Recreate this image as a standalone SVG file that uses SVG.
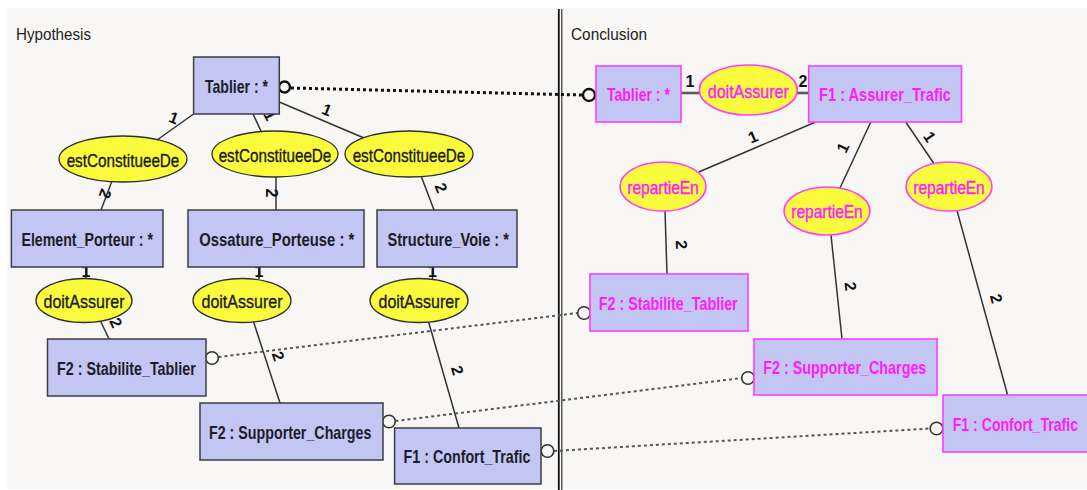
<svg xmlns="http://www.w3.org/2000/svg" width="1087" height="490" viewBox="0 0 1087 490">
<defs>
<style>
.bg{fill:#f8f7f5}
.box{fill:#c3c5f3;stroke:#3c3c44;stroke-width:1.5}
.mbox{fill:#c3c5f3;stroke:#ff3cff;stroke-width:1.6}
.ell{fill:#fbfb3e;stroke:#2e2e2e;stroke-width:1.3}
.mell{fill:#fbfb3e;stroke:#ff3cff;stroke-width:1.6}
.t{font-family:"Liberation Sans",Arial,sans-serif;font-size:19px;font-weight:bold;fill:#1c1c2c;text-anchor:middle}
.mt{font-family:"Liberation Sans",Arial,sans-serif;font-size:19px;font-weight:bold;fill:#ff1cff;text-anchor:middle}
.et{font-family:"Liberation Sans",Arial,sans-serif;font-size:19px;fill:#1c1c1c;stroke:#1c1c1c;stroke-width:0.35;text-anchor:middle}
.met{font-family:"Liberation Sans",Arial,sans-serif;font-size:19px;fill:#ff1cff;stroke:#ff1cff;stroke-width:0.45;text-anchor:middle}
.lbl{font-family:"Liberation Sans",Arial,sans-serif;font-size:16px;font-weight:bold;fill:#111;text-anchor:middle}
.title{font-family:"Liberation Sans",Arial,sans-serif;font-size:16px;fill:#222}
.ln{stroke:#333;stroke-width:1.5;fill:none}
.thk{stroke:#5a5a5a;stroke-width:2.6;fill:none}
.dot{stroke:#555;stroke-width:2;stroke-dasharray:3 3;fill:none}
.dotb{stroke:#111;stroke-width:3;stroke-dasharray:3 3;fill:none}
.circ{fill:none;stroke:#333;stroke-width:1.6}
.circb{fill:none;stroke:#111;stroke-width:2.4}
</style>
</defs>
<rect x="0" y="0" width="1087" height="490" fill="#ffffff"/>
<rect class="bg" x="7" y="8" width="1080" height="481"/>
<line x1="558.8" y1="9" x2="558.8" y2="490" stroke="#111" stroke-width="1.8"/>
<line x1="561.8" y1="9" x2="561.8" y2="490" stroke="#333" stroke-width="1.2"/>
<text class="title" x="16" y="40" textLength="75" lengthAdjust="spacingAndGlyphs">Hypothesis</text>
<text class="title" x="571" y="40" textLength="76" lengthAdjust="spacingAndGlyphs">Conclusion</text>

<g id="connectors">
<line class="ln" x1="193.6" y1="114" x2="157" y2="140"/>
<line class="ln" x1="253" y1="114" x2="261" y2="131"/>
<line class="ln" x1="279.3" y1="102" x2="364" y2="138"/>
<line class="ln" x1="112" y1="181" x2="101" y2="210"/>
<line class="ln" x1="276" y1="177" x2="276" y2="210"/>
<line class="ln" x1="421.5" y1="177" x2="434" y2="210"/>
<line class="ln" x1="86" y1="267" x2="86" y2="279"/>
<line class="ln" x1="259" y1="267" x2="259" y2="279"/>
<line class="ln" x1="432.5" y1="267" x2="432.5" y2="279"/>
<line class="ln" x1="101" y1="322" x2="109" y2="339"/>
<line class="ln" x1="253.6" y1="322" x2="280" y2="403"/>
<line class="ln" x1="428.6" y1="322" x2="459" y2="428"/>
<line class="thk" x1="681" y1="93" x2="700" y2="93"/>
<line class="thk" x1="797" y1="93" x2="809" y2="93"/>
<line class="ln" x1="815.6" y1="122" x2="698.8" y2="172"/>
<line class="ln" x1="870.8" y1="122" x2="840" y2="188"/>
<line class="ln" x1="905.7" y1="122" x2="933.6" y2="163"/>
<line class="ln" x1="665" y1="211" x2="667" y2="274"/>
<line class="ln" x1="831" y1="235" x2="842" y2="339"/>
<line class="ln" x1="957" y1="210.5" x2="1007.6" y2="395"/>
<line class="dotb" x1="291" y1="88" x2="582" y2="95"/>
<line class="dot" x1="218.5" y1="357" x2="577.5" y2="313"/>
<line class="dot" x1="395.5" y1="421" x2="742" y2="378"/>
<line class="dot" x1="554" y1="451" x2="930" y2="428.5"/>
<circle class="circb" cx="284.5" cy="87" r="5.5"/>
<circle class="circb" cx="589" cy="95" r="6"/>
<circle class="circ" cx="212" cy="358" r="6.3"/>
<circle class="circ" cx="389" cy="421.5" r="6.3"/>
<circle class="circ" cx="547.5" cy="451" r="6.3"/>
<circle class="circ" cx="584" cy="313" r="6.3"/>
<circle class="circ" cx="748" cy="378" r="6.3"/>
<circle class="circ" cx="936.5" cy="428.5" r="6.3"/>
<text class="lbl" transform="translate(172,123) rotate(20)">1</text>
<text class="lbl" transform="translate(265,118) rotate(63)">1</text>
<text class="lbl" transform="translate(325,115) rotate(22)">1</text>
<text class="lbl" transform="translate(100,192) rotate(110)">2</text>
<text class="lbl" transform="translate(266,193) rotate(90)">2</text>
<text class="lbl" transform="translate(436,190) rotate(68)">2</text>
<text class="lbl" x="86" y="277">1</text>
<text class="lbl" x="259" y="277">1</text>
<text class="lbl" x="432.5" y="277">1</text>
<text class="lbl" transform="translate(111,325) rotate(65)">2</text>
<text class="lbl" transform="translate(273,358) rotate(71)">2</text>
<text class="lbl" transform="translate(452,372) rotate(73)">2</text>
<text class="lbl" x="690" y="87">1</text>
<text class="lbl" x="803" y="87">2</text>
<text class="lbl" transform="translate(755,142) rotate(-23)">1</text>
<text class="lbl" transform="translate(848,150) rotate(-65)">1</text>
<text class="lbl" transform="translate(925,140) rotate(56)">1</text>
<text class="lbl" transform="translate(676,245) rotate(88)">2</text>
<text class="lbl" transform="translate(845,287) rotate(84)">2</text>
<text class="lbl" transform="translate(991,300) rotate(75)">2</text>
</g>

<g id="h-tablier"><rect class="box" x="193.6" y="57" width="85.7" height="57"/><text class="t" x="236.5" y="93" textLength="63" lengthAdjust="spacingAndGlyphs">Tablier : *</text></g>
<g id="h-est1"><ellipse class="ell" cx="123" cy="159" rx="64" ry="23"/><text class="et" x="123" y="166.5" textLength="112.7" lengthAdjust="spacingAndGlyphs">estConstitueeDe</text></g>
<g id="h-est2"><ellipse class="ell" cx="275" cy="154" rx="63" ry="23"/><text class="et" x="275" y="161.5" textLength="112.7" lengthAdjust="spacingAndGlyphs">estConstitueeDe</text></g>
<g id="h-est3"><ellipse class="ell" cx="409" cy="154" rx="64" ry="23"/><text class="et" x="409" y="161.5" textLength="112.7" lengthAdjust="spacingAndGlyphs">estConstitueeDe</text></g>
<g id="h-element"><rect class="box" x="11.4" y="210" width="151.6" height="57"/><text class="t" x="87.2" y="246" textLength="131.5" lengthAdjust="spacingAndGlyphs">Element_Porteur : *</text></g>
<g id="h-ossature"><rect class="box" x="188" y="210" width="176" height="57"/><text class="t" x="276.8" y="246" textLength="155" lengthAdjust="spacingAndGlyphs">Ossature_Porteuse : *</text></g>
<g id="h-structure"><rect class="box" x="377" y="210" width="140" height="57"/><text class="t" x="448.2" y="246" textLength="121.5" lengthAdjust="spacingAndGlyphs">Structure_Voie : *</text></g>
<g id="h-doit1"><ellipse class="ell" cx="84" cy="300.5" rx="48" ry="22"/><text class="et" x="84" y="307.5" textLength="81" lengthAdjust="spacingAndGlyphs">doitAssurer</text></g>
<g id="h-doit2"><ellipse class="ell" cx="242" cy="300.5" rx="49" ry="22"/><text class="et" x="242" y="307.5" textLength="81" lengthAdjust="spacingAndGlyphs">doitAssurer</text></g>
<g id="h-doit3"><ellipse class="ell" cx="419" cy="300.5" rx="49" ry="22"/><text class="et" x="419" y="307.5" textLength="81" lengthAdjust="spacingAndGlyphs">doitAssurer</text></g>
<g id="h-stabilite"><rect class="box" x="47.5" y="339" width="158.5" height="57"/><text class="t" x="126.4" y="375" textLength="138.6" lengthAdjust="spacingAndGlyphs">F2 : Stabilite_Tablier</text></g>
<g id="h-supporter"><rect class="box" x="200" y="403" width="183" height="57"/><text class="t" x="290.2" y="439" textLength="162.4" lengthAdjust="spacingAndGlyphs">F2 : Supporter_Charges</text></g>
<g id="h-confort"><rect class="box" x="394.6" y="428" width="146.4" height="56"/><text class="t" x="467" y="463" textLength="126.8" lengthAdjust="spacingAndGlyphs">F1 : Confort_Trafic</text></g>

<g id="c-tablier"><rect class="mbox" x="596" y="66" width="85" height="56"/><text class="mt" x="638.4" y="101" textLength="63" lengthAdjust="spacingAndGlyphs">Tablier : *</text></g>
<g id="c-doit"><ellipse class="mell" cx="748.3" cy="90" rx="49" ry="25"/><text class="met" x="748.3" y="97.5" textLength="81" lengthAdjust="spacingAndGlyphs">doitAssurer</text></g>
<g id="c-assurer"><rect class="mbox" x="808.7" y="66" width="152.8" height="56"/><text class="mt" x="885" y="101" textLength="132" lengthAdjust="spacingAndGlyphs">F1 : Assurer_Trafic</text></g>
<g id="c-rep1"><ellipse class="mell" cx="663" cy="186.5" rx="43" ry="24.5"/><text class="met" x="663" y="193.5" textLength="71.5" lengthAdjust="spacingAndGlyphs">repartieEn</text></g>
<g id="c-rep2"><ellipse class="mell" cx="827" cy="211" rx="43" ry="24"/><text class="met" x="827" y="218" textLength="71.5" lengthAdjust="spacingAndGlyphs">repartieEn</text></g>
<g id="c-rep3"><ellipse class="mell" cx="949" cy="186.5" rx="43" ry="24.5"/><text class="met" x="949" y="193.5" textLength="71.5" lengthAdjust="spacingAndGlyphs">repartieEn</text></g>
<g id="c-stabilite"><rect class="mbox" x="590" y="274" width="158" height="57"/><text class="mt" x="668.2" y="310" textLength="139" lengthAdjust="spacingAndGlyphs">F2 : Stabilite_Tablier</text></g>
<g id="c-supporter"><rect class="mbox" x="754" y="339" width="183" height="56"/><text class="mt" x="844.8" y="374" textLength="163" lengthAdjust="spacingAndGlyphs">F2 : Supporter_Charges</text></g>
<g id="c-confort"><rect class="mbox" x="943" y="395" width="146" height="57"/><text class="mt" x="1015.4" y="431" textLength="125.3" lengthAdjust="spacingAndGlyphs">F1 : Confort_Trafic</text></g>
</svg>
